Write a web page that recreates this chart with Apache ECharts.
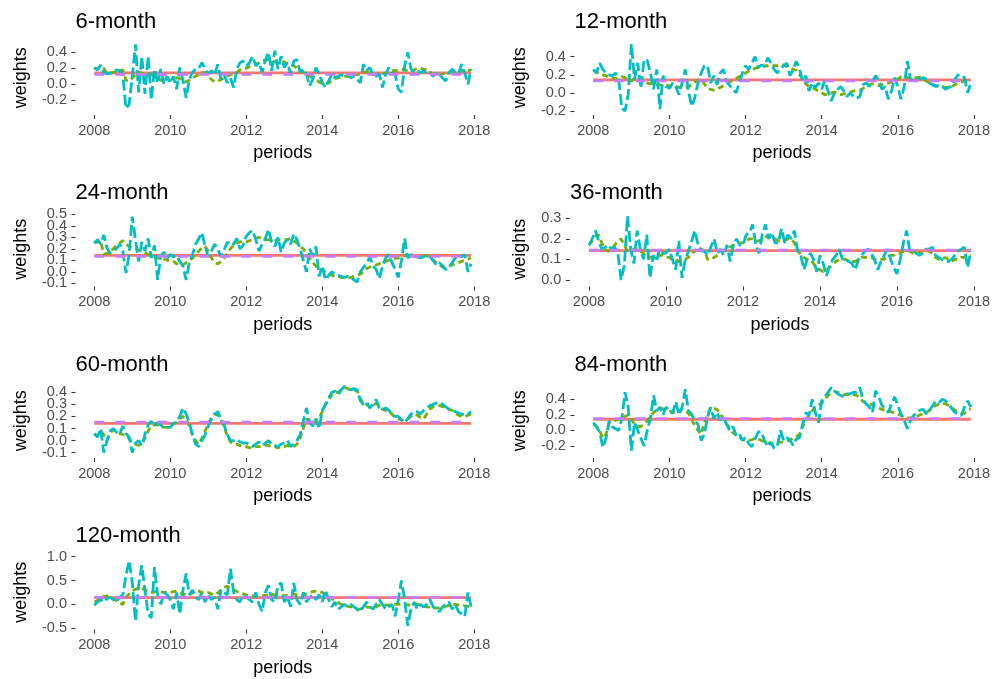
<!DOCTYPE html>
<html>
<head>
<meta charset="utf-8">
<script src="https://cdn.jsdelivr.net/npm/echarts@6/dist/echarts.min.js"></script>
<style>
  html, body { margin: 0; padding: 0; background: #ffffff; }
  #chart { width: 997px; height: 679px; }
</style>
</head>
<body>
<div id="chart"></div>
<script>
// Rolling-window portfolio weights, monthly 2008-01 .. 2017-12
const horizons = ['6-month', '12-month', '24-month', '36-month', '60-month', '84-month', '120-month'];
const yearTicks = [2008, 2010, 2012, 2014, 2016, 2018];
const yTicks = [
  [-0.2, 0, 0.2, 0.4],
  [-0.2, 0, 0.2, 0.4],
  [-0.1, 0, 0.1, 0.2, 0.3, 0.4, 0.5],
  [0, 0.1, 0.2, 0.3],
  [-0.1, 0, 0.1, 0.2, 0.3, 0.4],
  [-0.2, 0, 0.2, 0.4],
  [-0.5, 0, 0.5, 1.0]
];

// equal weight (1/7) and fixed-weight benchmark, one value per horizon
const equalW = [0.143, 0.143, 0.143, 0.143, 0.143, 0.143, 0.143];
const fixedW = [0.125, 0.132, 0.135, 0.145, 0.153, 0.152, 0.147];

// smoothed weights (one row per year)
const trend6 = [
  0.20, 0.19, 0.22, 0.20, 0.14, 0.13, 0.15, 0.16, 0.17, 0.18, 0.05, 0.04,
  0.08, 0.12, 0.15, 0.14, 0.13, 0.12, 0.12, 0.10, 0.08, 0.05, 0.06, 0.07,
  0.05, 0.06, 0.08, 0.07, 0.05, 0.03, 0.05, 0.08, 0.10, 0.12, 0.15, 0.14,
  0.10, 0.06, 0.03, 0.04, 0.06, 0.08, 0.10, 0.12, 0.13, 0.15, 0.18, 0.20,
  0.20, 0.22, 0.23, 0.25, 0.27, 0.30, 0.30, 0.31, 0.29, 0.28, 0.27, 0.28,
  0.28, 0.26, 0.25, 0.23, 0.20, 0.18, 0.15, 0.12, 0.10, 0.08, 0.06, 0.03,
  0.01, 0.00, 0.02, 0.04, 0.07, 0.08, 0.09, 0.10, 0.10, 0.11, 0.12, 0.12,
  0.13, 0.15, 0.16, 0.14, 0.12, 0.12, 0.13, 0.13, 0.14, 0.16, 0.17, 0.17,
  0.18, 0.19, 0.18, 0.17, 0.16, 0.18, 0.20, 0.20, 0.19, 0.18, 0.15, 0.13,
  0.11, 0.12, 0.13, 0.14, 0.15, 0.14, 0.15, 0.16, 0.17, 0.18, 0.17, 0.18
];
const trend12 = [
  0.25, 0.23, 0.22, 0.20, 0.19, 0.17, 0.16, 0.16, 0.17, 0.18, 0.17, 0.14,
  0.13, 0.16, 0.18, 0.15, 0.12, 0.11, 0.10, 0.10, 0.09, 0.09, 0.08, 0.08,
  0.08, 0.07, 0.07, 0.06, 0.06, 0.06, 0.07, 0.09, 0.12, 0.14, 0.15, 0.10,
  0.05, 0.04, 0.03, 0.04, 0.06, 0.08, 0.10, 0.12, 0.14, 0.16, 0.18, 0.20,
  0.22, 0.24, 0.26, 0.27, 0.28, 0.29, 0.30, 0.30, 0.31, 0.30, 0.30, 0.31,
  0.31, 0.29, 0.28, 0.26, 0.25, 0.20, 0.15, 0.10, 0.07, 0.06, 0.04, 0.02,
  0.00, -0.02, -0.01, 0.00, 0.01, -0.01, -0.02, -0.01, 0.00, 0.01, 0.02, 0.03,
  0.03, 0.05, 0.07, 0.09, 0.10, 0.09, 0.08, 0.09, 0.10, 0.11, 0.12, 0.13,
  0.15, 0.18, 0.19, 0.17, 0.16, 0.16, 0.17, 0.17, 0.15, 0.13, 0.11, 0.09,
  0.08, 0.07, 0.07, 0.06, 0.06, 0.07, 0.09, 0.11, 0.12, 0.13, 0.13, 0.13
];
const trend24 = [
  0.25, 0.26, 0.27, 0.15, 0.16, 0.18, 0.20, 0.23, 0.25, 0.27, 0.24, 0.22,
  0.21, 0.20, 0.19, 0.18, 0.17, 0.15, 0.14, 0.13, 0.12, 0.12, 0.11, 0.10,
  0.10, 0.09, 0.07, 0.06, 0.06, 0.08, 0.10, 0.12, 0.15, 0.18, 0.21, 0.22,
  0.18, 0.12, 0.08, 0.07, 0.09, 0.12, 0.16, 0.20, 0.23, 0.25, 0.26, 0.26,
  0.26, 0.27, 0.28, 0.29, 0.30, 0.29, 0.28, 0.28, 0.27, 0.27, 0.28, 0.28,
  0.28, 0.28, 0.29, 0.27, 0.25, 0.22, 0.20, 0.16, 0.12, 0.08, 0.05, 0.02,
  0.01, 0.00, -0.02, -0.03, -0.04, -0.04, -0.05, -0.05, -0.05, -0.05, -0.04, -0.03,
  -0.02, 0.00, 0.03, 0.04, 0.05, 0.06, 0.07, 0.08, 0.09, 0.10, 0.11, 0.12,
  0.12, 0.13, 0.14, 0.14, 0.14, 0.13, 0.13, 0.13, 0.14, 0.14, 0.12, 0.10,
  0.08, 0.06, 0.04, 0.04, 0.05, 0.06, 0.07, 0.08, 0.09, 0.10, 0.11, 0.12
];
const trend36 = [
  0.17, 0.19, 0.21, 0.22, 0.18, 0.15, 0.14, 0.15, 0.17, 0.19, 0.20, 0.17,
  0.14, 0.14, 0.15, 0.15, 0.14, 0.13, 0.11, 0.11, 0.11, 0.11, 0.12, 0.12,
  0.11, 0.11, 0.10, 0.10, 0.09, 0.09, 0.10, 0.11, 0.13, 0.14, 0.16, 0.15,
  0.14, 0.10, 0.10, 0.11, 0.12, 0.13, 0.14, 0.15, 0.16, 0.17, 0.17, 0.18,
  0.18, 0.19, 0.20, 0.20, 0.19, 0.19, 0.20, 0.21, 0.21, 0.20, 0.20, 0.19,
  0.19, 0.19, 0.20, 0.20, 0.18, 0.15, 0.12, 0.11, 0.10, 0.10, 0.08, 0.06,
  0.05, 0.04, 0.05, 0.06, 0.08, 0.09, 0.10, 0.10, 0.10, 0.09, 0.09, 0.09,
  0.10, 0.11, 0.11, 0.11, 0.11, 0.10, 0.10, 0.10, 0.10, 0.11, 0.12, 0.12,
  0.13, 0.13, 0.14, 0.14, 0.14, 0.13, 0.13, 0.13, 0.13, 0.14, 0.14, 0.13,
  0.11, 0.10, 0.10, 0.11, 0.10, 0.09, 0.10, 0.10, 0.11, 0.11, 0.12, 0.12
];
const trend60 = [
  0.05, 0.04, 0.08, 0.05, 0.00, 0.06, 0.09, 0.08, 0.06, 0.05, 0.04, 0.02,
  -0.02, -0.03, -0.04, -0.03, 0.02, 0.08, 0.12, 0.13, 0.13, 0.12, 0.11, 0.11,
  0.12, 0.14, 0.15, 0.18, 0.20, 0.18, 0.12, 0.05, 0.00, -0.03, 0.02, 0.08,
  0.14, 0.19, 0.22, 0.21, 0.17, 0.11, 0.04, -0.01, -0.03, -0.03, -0.04, -0.05,
  -0.05, -0.06, -0.06, -0.05, -0.05, -0.05, -0.04, -0.04, -0.05, -0.05, -0.06, -0.05,
  -0.05, -0.04, -0.05, -0.05, -0.03, 0.02, 0.10, 0.18, 0.16, 0.14, 0.17, 0.18,
  0.24, 0.30, 0.34, 0.38, 0.40, 0.40, 0.42, 0.44, 0.43, 0.42, 0.42, 0.41,
  0.35, 0.30, 0.30, 0.28, 0.29, 0.31, 0.28, 0.26, 0.25, 0.24, 0.22, 0.19,
  0.18, 0.17, 0.17, 0.18, 0.20, 0.22, 0.21, 0.19, 0.18, 0.22, 0.26, 0.28,
  0.29, 0.29, 0.28, 0.27, 0.26, 0.25, 0.23, 0.21, 0.20, 0.20, 0.21, 0.22
];
const trend84 = [
  0.08, 0.05, 0.00, -0.10, -0.05, 0.10, 0.12, 0.13, 0.14, 0.15, 0.18, 0.20,
  0.15, 0.08, 0.05, 0.05, 0.08, 0.12, 0.18, 0.23, 0.26, 0.28, 0.28, 0.26,
  0.25, 0.24, 0.22, 0.24, 0.28, 0.25, 0.22, 0.15, 0.05, 0.00, -0.05, 0.10,
  0.20, 0.30, 0.29, 0.27, 0.22, 0.15, 0.08, 0.03, -0.03, -0.06, -0.09, -0.12,
  -0.12, -0.13, -0.12, -0.10, -0.11, -0.13, -0.15, -0.16, -0.17, -0.17, -0.16, -0.15,
  -0.15, -0.14, -0.12, -0.10, -0.08, -0.05, 0.05, 0.12, 0.20, 0.25, 0.30, 0.33,
  0.35, 0.40, 0.45, 0.48, 0.50, 0.49, 0.47, 0.46, 0.46, 0.46, 0.46, 0.45,
  0.42, 0.37, 0.35, 0.34, 0.33, 0.31, 0.29, 0.27, 0.26, 0.25, 0.24, 0.22,
  0.21, 0.19, 0.18, 0.16, 0.16, 0.17, 0.18, 0.20, 0.21, 0.23, 0.26, 0.30,
  0.32, 0.34, 0.35, 0.34, 0.32, 0.29, 0.26, 0.24, 0.22, 0.22, 0.25, 0.28
];
const trend120 = [
  0.05, 0.08, 0.15, 0.17, 0.18, 0.15, 0.12, 0.08, 0.03, 0.00, 0.15, 0.22,
  0.28, 0.32, 0.35, 0.34, 0.30, 0.27, 0.25, 0.26, 0.28, 0.27, 0.25, 0.26,
  0.25, 0.27, 0.28, 0.25, 0.22, 0.20, 0.20, 0.24, 0.30, 0.28, 0.25, 0.23,
  0.25, 0.22, 0.20, 0.24, 0.30, 0.36, 0.38, 0.34, 0.30, 0.27, 0.25, 0.22,
  0.20, 0.19, 0.18, 0.18, 0.17, 0.18, 0.19, 0.20, 0.21, 0.20, 0.20, 0.19,
  0.18, 0.19, 0.20, 0.22, 0.20, 0.18, 0.19, 0.22, 0.25, 0.27, 0.28, 0.27,
  0.25, 0.22, 0.18, 0.12, 0.08, 0.04, 0.00, -0.02, -0.04, -0.05, -0.07, -0.10,
  -0.10, -0.08, -0.05, -0.06, -0.08, -0.05, -0.02, 0.00, -0.01, -0.02, -0.01, 0.00,
  0.00, 0.01, 0.00, -0.01, -0.02, -0.01, 0.00, -0.01, -0.03, -0.05, -0.06, -0.07,
  -0.08, -0.07, -0.05, -0.04, -0.02, -0.01, 0.00, -0.01, -0.02, -0.03, -0.04, -0.05
];

// unsmoothed sample weights (one row per year)
const raw6 = [
  0.21, 0.18, 0.24, 0.15, 0.13, 0.14, 0.17, 0.18, 0.17, 0.12, -0.30, -0.25,
  0.10, 0.50, -0.10, 0.35, -0.12, 0.35, -0.19, 0.19, 0.02, 0.19, 0.00, 0.10,
  0.02, 0.10, -0.06, 0.21, 0.05, -0.17, 0.06, 0.15, 0.19, 0.20, 0.27, 0.19,
  0.13, 0.17, 0.12, 0.25, 0.06, 0.12, 0.02, 0.08, -0.04, 0.19, 0.27, 0.29,
  0.23, 0.27, 0.35, 0.23, 0.27, 0.15, 0.30, 0.40, 0.17, 0.42, 0.19, 0.35,
  0.21, 0.27, 0.13, 0.29, 0.31, 0.15, 0.19, 0.13, -0.02, 0.06, 0.21, 0.13,
  0.02, -0.04, 0.04, 0.13, 0.08, 0.10, 0.12, 0.10, 0.13, 0.08, 0.10, 0.06,
  0.02, 0.25, 0.17, 0.21, 0.12, 0.10, 0.13, -0.04, 0.12, 0.21, 0.14, 0.12,
  -0.06, -0.10, 0.23, 0.40, 0.19, 0.15, 0.17, 0.14, 0.17, 0.13, 0.15, 0.10,
  0.14, 0.12, 0.08, 0.04, 0.14, 0.19, 0.15, 0.13, 0.25, 0.14, 0.00, 0.19
];
const raw12 = [
  0.26, 0.22, 0.33, 0.26, 0.22, 0.20, 0.19, 0.22, 0.15, -0.17, -0.20, -0.02,
  0.54, 0.15, 0.33, 0.05, 0.37, 0.36, 0.22, 0.04, 0.26, -0.18, 0.19, 0.07,
  0.05, 0.11, 0.07, -0.02, 0.11, 0.26, 0.02, -0.15, -0.05, 0.11, 0.22, 0.30,
  0.30, 0.11, 0.19, 0.09, 0.22, 0.26, 0.13, 0.08, 0.04, 0.00, 0.11, 0.22,
  0.30, 0.26, 0.33, 0.40, 0.28, 0.31, 0.29, 0.39, 0.33, 0.26, 0.22, 0.27,
  0.30, 0.33, 0.19, 0.26, 0.35, 0.26, 0.13, 0.19, 0.02, 0.11, 0.06, 0.11,
  0.04, 0.14, 0.02, -0.09, 0.00, 0.04, 0.07, 0.02, -0.04, 0.00, -0.04, -0.06,
  -0.04, 0.09, 0.11, 0.07, 0.13, 0.19, 0.13, 0.04, 0.07, -0.07, 0.02, 0.17,
  0.07, -0.07, 0.07, 0.35, 0.15, 0.13, 0.17, 0.15, 0.17, 0.15, 0.11, 0.09,
  0.07, 0.09, 0.07, 0.04, 0.06, 0.07, 0.15, 0.20, 0.20, 0.17, 0.00, 0.11
];
const raw24 = [
  0.25, 0.28, 0.24, 0.32, 0.21, 0.16, 0.18, 0.20, 0.24, 0.18, -0.01, 0.15,
  0.48, 0.28, 0.09, 0.26, 0.18, 0.29, 0.12, 0.23, -0.07, 0.14, 0.17, 0.12,
  0.15, 0.13, 0.14, 0.09, 0.05, -0.07, 0.08, 0.15, 0.24, 0.29, 0.34, 0.22,
  0.13, 0.18, 0.24, 0.20, 0.13, 0.19, 0.26, 0.23, 0.24, 0.29, 0.20, 0.23,
  0.31, 0.34, 0.36, 0.28, 0.18, 0.24, 0.29, 0.37, 0.26, 0.22, 0.30, 0.17,
  0.25, 0.28, 0.24, 0.33, 0.28, 0.20, 0.10, 0.00, 0.20, 0.14, 0.22, -0.04,
  0.05, -0.07, -0.03, 0.00, -0.02, -0.03, -0.04, -0.05, -0.04, -0.05, -0.07, -0.09,
  0.00, 0.04, 0.07, 0.13, 0.05, 0.02, -0.06, 0.05, 0.12, 0.15, 0.08, 0.02,
  -0.05, 0.10, 0.29, 0.12, 0.15, 0.14, 0.13, 0.12, 0.13, 0.15, 0.13, 0.10,
  0.06, 0.08, 0.05, 0.02, 0.04, 0.08, 0.12, 0.15, 0.13, 0.15, 0.00, 0.07
];
const raw36 = [
  0.17, 0.20, 0.24, 0.19, 0.15, 0.16, 0.17, 0.15, 0.16, 0.13, 0.00, 0.07,
  0.31, 0.15, 0.08, 0.24, 0.15, 0.10, 0.22, 0.01, 0.12, 0.09, 0.15, 0.13,
  0.13, 0.15, 0.10, 0.05, 0.19, 0.01, 0.10, 0.14, 0.19, 0.24, 0.17, 0.14,
  0.14, 0.12, 0.16, 0.20, 0.13, 0.15, 0.12, 0.17, 0.09, 0.17, 0.20, 0.17,
  0.17, 0.22, 0.23, 0.27, 0.17, 0.13, 0.22, 0.27, 0.20, 0.23, 0.18, 0.18,
  0.25, 0.18, 0.22, 0.20, 0.24, 0.14, 0.12, 0.05, 0.10, 0.13, 0.10, 0.04,
  0.12, 0.08, 0.02, 0.07, 0.10, 0.12, 0.15, 0.10, 0.10, 0.09, 0.08, 0.05,
  0.10, 0.12, 0.14, 0.15, 0.13, 0.10, 0.05, 0.09, 0.12, 0.15, 0.10, 0.06,
  0.03, 0.10, 0.18, 0.24, 0.14, 0.14, 0.13, 0.12, 0.13, 0.15, 0.15, 0.16,
  0.12, 0.11, 0.10, 0.09, 0.09, 0.10, 0.12, 0.14, 0.15, 0.16, 0.06, 0.14
];
const raw60 = [
  0.06, 0.03, 0.10, -0.10, 0.00, 0.08, 0.10, 0.07, 0.05, 0.12, 0.06, 0.03,
  -0.10, -0.02, 0.00, -0.04, 0.05, 0.13, 0.16, 0.12, 0.15, 0.13, 0.10, 0.11,
  0.11, 0.14, 0.16, 0.20, 0.27, 0.22, 0.15, 0.05, -0.03, -0.05, 0.00, 0.05,
  0.12, 0.18, 0.22, 0.24, 0.18, 0.13, 0.05, 0.00, 0.00, 0.01, -0.01, -0.02,
  -0.02, -0.03, -0.05, -0.03, -0.01, -0.04, -0.02, 0.00, -0.03, -0.04, -0.05, -0.03,
  -0.02, 0.00, -0.05, -0.03, 0.00, 0.05, 0.16, 0.27, 0.15, 0.12, 0.18, 0.10,
  0.25, 0.30, 0.35, 0.40, 0.41, 0.38, 0.42, 0.45, 0.43, 0.42, 0.43, 0.42,
  0.33, 0.30, 0.32, 0.27, 0.30, 0.34, 0.27, 0.25, 0.27, 0.25, 0.22, 0.20,
  0.20, 0.17, 0.15, 0.18, 0.22, 0.24, 0.24, 0.22, 0.25, 0.27, 0.29, 0.30,
  0.31, 0.32, 0.30, 0.28, 0.26, 0.25, 0.24, 0.23, 0.22, 0.21, 0.22, 0.24
];
const raw84 = [
  0.10, 0.05, -0.02, -0.22, -0.10, 0.12, 0.05, 0.02, 0.00, 0.15, 0.49, 0.30,
  -0.26, 0.10, 0.00, -0.10, -0.20, 0.00, 0.15, 0.45, 0.25, 0.30, 0.20, 0.30,
  0.25, 0.22, 0.37, 0.20, 0.30, 0.53, 0.25, 0.21, 0.12, 0.08, -0.13, -0.05,
  0.17, 0.30, 0.15, 0.23, 0.13, 0.17, 0.08, 0.00, 0.05, -0.06, -0.04, -0.13,
  -0.09, -0.17, -0.21, -0.11, -0.02, -0.02, -0.13, -0.21, -0.15, -0.23, -0.20, 0.00,
  -0.13, -0.09, -0.13, -0.19, -0.11, -0.09, 0.08, 0.23, 0.19, 0.40, 0.23, 0.10,
  0.38, 0.43, 0.49, 0.55, 0.51, 0.47, 0.45, 0.43, 0.47, 0.47, 0.49, 0.49,
  0.55, 0.40, 0.34, 0.30, 0.23, 0.51, 0.43, 0.32, 0.28, 0.23, 0.34, 0.43,
  0.32, 0.21, 0.13, 0.02, 0.13, 0.19, 0.23, 0.26, 0.27, 0.21, 0.26, 0.32,
  0.38, 0.36, 0.40, 0.38, 0.34, 0.28, 0.23, 0.21, 0.19, 0.30, 0.38, 0.30
];
const raw120 = [
  -0.02, 0.05, 0.10, 0.05, 0.12, 0.15, 0.10, 0.05, 0.15, 0.20, 0.60, 0.92,
  0.45, -0.35, 0.40, 0.82, 0.30, -0.20, -0.28, 0.78, 0.20, 0.00, 0.25, 0.20,
  0.10, -0.10, 0.25, -0.20, 0.30, 0.65, 0.20, 0.30, 0.15, 0.10, 0.25, 0.05,
  0.20, 0.10, 0.15, -0.10, 0.30, 0.25, 0.20, 0.75, 0.25, 0.10, 0.05, 0.20,
  0.15, 0.10, 0.05, 0.25, 0.00, -0.15, 0.25, 0.40, 0.10, 0.05, 0.40, 0.45,
  0.05, 0.15, -0.05, 0.45, 0.10, 0.00, 0.25, 0.05, 0.15, 0.20, 0.10, 0.20,
  0.05, 0.30, 0.10, -0.05, 0.05, -0.10, -0.05, 0.00, -0.05, 0.00, -0.05, -0.10,
  -0.15, -0.05, 0.05, -0.05, -0.10, 0.00, 0.10, 0.00, -0.10, -0.05, 0.00, -0.25,
  0.10, 0.50, 0.10, -0.45, -0.10, 0.05, -0.10, 0.00, -0.05, 0.00, 0.10, -0.05,
  -0.10, -0.15, -0.05, 0.00, 0.05, -0.10, 0.00, -0.15, -0.20, -0.25, 0.25, -0.05
];

const trendSeries = [trend6, trend12, trend24, trend36, trend60, trend84, trend120];
const rawSeries = [raw6, raw12, raw24, raw36, raw60, raw84, raw120];

// ---- layout (pixel geometry of each small panel) ----
const ROW_OFFSETS = [0, 171.5, 343, 514.5];
const PANEL_TOP = 40.5, PANEL_H = 74.5;
// x: pixel of 2008 and pixels per year; y: pixel of 0 (row-local) and pixels per unit
const geom = [
  { x2008: 94.3,  pxYear: 38.0,  y0: 84.3,  pxUnit: 80.0 },
  { x2008: 593.3, pxYear: 38.07, y0: 92.9,  pxUnit: 90.5 },
  { x2008: 94.3,  pxYear: 38.0,  y0: 100.3, pxUnit: 115.0 },
  { x2008: 589.0, pxYear: 38.5,  y0: 108.5, pxUnit: 205.7 },
  { x2008: 94.3,  pxYear: 38.0,  y0: 97.6,  pxUnit: 120.8 },
  { x2008: 593.3, pxYear: 38.07, y0: 87.4,  pxUnit: 77.8 },
  { x2008: 94.3,  pxYear: 38.0,  y0: 89.9,  pxUnit: 47.7 }
];
const X_MIN = 2007.504, X_MAX = 2018.413;

const months = trend6.map((_, i) => 2008 + i / 12);
const pairs = arr => arr.map((v, i) => [months[i], v]);

const COLORS = { equal: '#F8766D', trend: '#7CAE00', raw: '#00BFC4', fixed: '#C77CFF' };
const FONT = "'Liberation Sans', Arial, Helvetica, sans-serif";
const LW = 2.8;

const grids = [], xAxes = [], yAxes = [], series = [], graphics = [];

const fmtY = v => (Math.abs(v) < 1e-9 ? 0 : v).toFixed(1);
const yLabelStyle = { margin: 8.5, color: '#4D4D4D', fontSize: 14.5, fontFamily: FONT, padding: [3, 0, 0, 0],
                      showMinLabel: true, showMaxLabel: true, hideOverlap: false, formatter: fmtY };

horizons.forEach((name, i) => {
  const g = geom[i];
  const row = Math.floor(i / 2);
  const col = i % 2;
  const rowOff = ROW_OFFSETS[row];
  const left = g.x2008 + (X_MIN - 2008) * g.pxYear;
  const width = (X_MAX - X_MIN) * g.pxYear;
  const top = PANEL_TOP + rowOff;
  const yMax = (g.y0 - PANEL_TOP) / g.pxUnit;
  const yMin = (g.y0 - PANEL_TOP - PANEL_H) / g.pxUnit;

  grids.push({ left: left, top: top, width: width, height: PANEL_H, containLabel: false, outerBoundsMode: 'none' });

  xAxes.push({
    type: 'value', gridIndex: i, min: X_MIN, max: X_MAX,
    axisLine: { show: false, onZero: false },
    splitLine: { show: false },
    axisTick: { show: true, length: 4, customValues: yearTicks, lineStyle: { color: '#333333', width: 1.1 } },
    axisLabel: { customValues: yearTicks, margin: 8, color: '#4D4D4D', fontSize: 14.5, fontFamily: FONT,
                 showMinLabel: true, showMaxLabel: true, hideOverlap: false,
                 formatter: v => String(Math.round(v)) }
  });

  // Closely spaced tick labels are split over two coincident axes so that
  // none of them gets dropped by the label-overlap handling.
  const even = yTicks[i].filter((_, k) => k % 2 === 0);
  const odd = yTicks[i].filter((_, k) => k % 2 === 1);
  yAxes.push({
    type: 'value', gridIndex: i, min: yMin, max: yMax, position: 'left',
    axisLine: { show: false, onZero: false },
    splitLine: { show: false },
    axisTick: { show: true, length: 4, customValues: yTicks[i], lineStyle: { color: '#333333', width: 1.1 } },
    axisLabel: Object.assign({ customValues: even }, yLabelStyle)
  });
  yAxes.push({
    type: 'value', gridIndex: i, min: yMin, max: yMax, position: 'left', offset: 0,
    axisLine: { show: false, onZero: false },
    splitLine: { show: false },
    axisTick: { show: false },
    axisLabel: Object.assign({ customValues: odd }, yLabelStyle)
  });

  const base = { type: 'line', xAxisIndex: i, yAxisIndex: 2 * i, showSymbol: false, symbol: 'none',
                 silent: true, animation: false, clip: false };
  series.push(Object.assign({}, base, {
    name: 'equal weight', data: pairs(months.map(() => equalW[i])),
    lineStyle: { color: COLORS.equal, width: LW, type: 'solid' }
  }));
  series.push(Object.assign({}, base, {
    name: 'smoothed', data: pairs(trendSeries[i]),
    lineStyle: { color: COLORS.trend, width: LW, type: [6, 4], cap: 'butt' }
  }));
  series.push(Object.assign({}, base, {
    name: 'sample', data: pairs(rawSeries[i]),
    lineStyle: { color: COLORS.raw, width: LW, type: [11, 4], cap: 'butt' }
  }));
  series.push(Object.assign({}, base, {
    name: 'fixed', data: pairs(months.map(() => fixedW[i])),
    lineStyle: { color: COLORS.fixed, width: LW, type: [10, 11], cap: 'butt' }
  }));

  const txt = (text, size, align) => ({ text: text, font: `${size}px ${FONT}`, fill: '#000000',
    textAlign: align, textVerticalAlign: 'middle', align: align, verticalAlign: 'middle' });

  // panel title
  graphics.push({ type: 'text', x: left, y: rowOff + 21.5, style: txt(name, 22, 'left') });
  // axis titles
  graphics.push({ type: 'text', x: col === 0 ? 21.5 : 520.5, y: top + PANEL_H / 2, rotation: Math.PI / 2,
    style: txt('weights', 18, 'center') });
  graphics.push({ type: 'text', x: left + width / 2, y: rowOff + 153.5, style: txt('periods', 18, 'center') });
});

const chart = echarts.init(document.getElementById('chart'), null, { renderer: 'canvas' });
chart.setOption({
  backgroundColor: '#ffffff',
  animation: false,
  grid: grids,
  xAxis: xAxes,
  yAxis: yAxes,
  series: series,
  graphic: { elements: graphics }
});
</script>
</body>
</html>
